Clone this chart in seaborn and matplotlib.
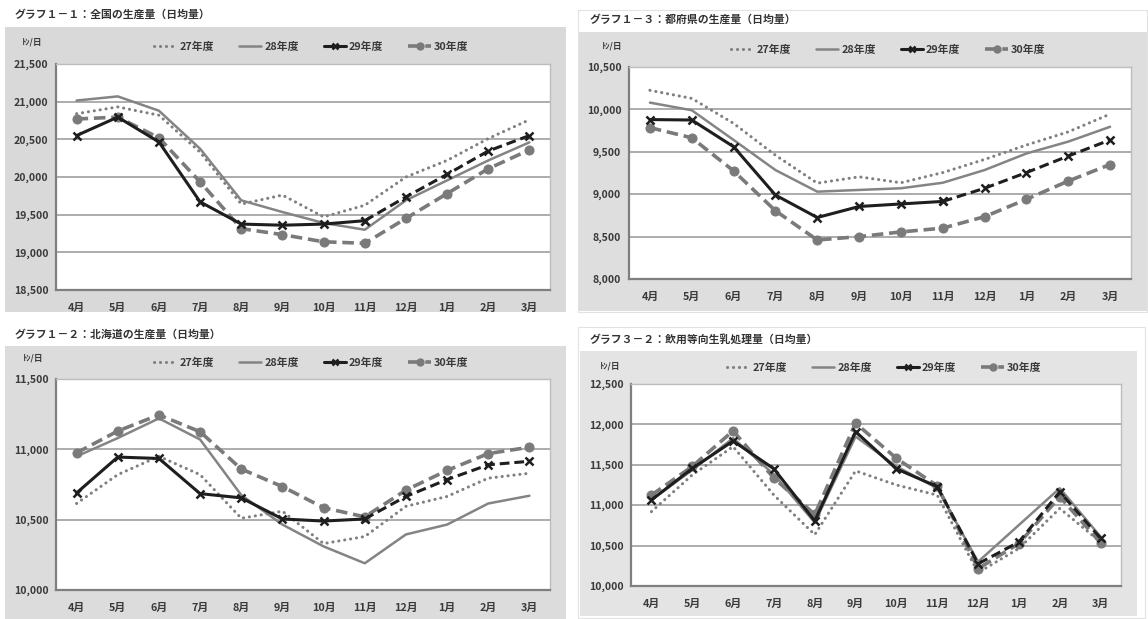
import numpy as np
import matplotlib
matplotlib.use("Agg")
import matplotlib.pyplot as plt
from matplotlib.lines import Line2D
from matplotlib.patches import Rectangle
import seaborn as sns

sns.set_style("white")
plt.rcParams["font.family"] = ["Noto Sans CJK JP", "DejaVu Sans"]

# ---- data -------------------------------------------------------------
months = ["4月", "5月", "6月", "7月", "8月", "9月", "10月", "11月", "12月", "1月", "2月", "3月"]
years = ["27年度", "28年度", "29年度", "30年度"]
unit_label = "ﾄﾝ/日"

# グラフ1-1 全国
national_27 = [20840, 20930, 20820, 20330, 19640, 19760, 19470, 19625, 20000, 20220, 20510, 20760]
national_28 = [21015, 21070, 20880, 20375, 19690, 19535, 19390, 19300, 19690, 19955, 20220, 20460]
national_29 = [20550, 20795, 20465, 19670, 19375, 19360, 19375, 19420, 19735, 20035, 20345, 20550]
national_30 = [20770, 20795, 20520, 19935, 19315, 19235, 19140, 19120, 19450, 19780, 20110, 20360]
national_ticks = [18500, 19000, 19500, 20000, 20500, 21000, 21500]

# グラフ1-2 北海道
hokkaido_27 = [10615, 10820, 10950, 10820, 10510, 10560, 10330, 10380, 10595, 10665, 10795, 10830]
hokkaido_28 = [10950, 11080, 11220, 11070, 10675, 10465, 10310, 10190, 10395, 10465, 10615, 10670]
hokkaido_29 = [10690, 10945, 10935, 10685, 10655, 10505, 10490, 10505, 10665, 10785, 10890, 10915]
hokkaido_30 = [10975, 11130, 11245, 11125, 10860, 10735, 10585, 10520, 10710, 10850, 10970, 11015]
hokkaido_ticks = [10000, 10500, 11000, 11500]

# グラフ1-3 都府県
prefs_27 = [10225, 10130, 9835, 9460, 9130, 9205, 9135, 9255, 9410, 9580, 9735, 9945]
prefs_28 = [10080, 9990, 9640, 9285, 9030, 9050, 9070, 9135, 9285, 9480, 9620, 9795]
prefs_29 = [9880, 9875, 9560, 8990, 8725, 8855, 8885, 8915, 9070, 9255, 9450, 9640]
prefs_30 = [9785, 9665, 9275, 8805, 8460, 8500, 8555, 8600, 8735, 8940, 9155, 9350]
prefs_ticks = [8000, 8500, 9000, 9500, 10000, 10500]

# グラフ3-2 飲用等向生乳処理量
drink_27 = [10920, 11375, 11725, 11125, 10635, 11425, 11250, 11125, 10165, 10465, 10960, 10545]
drink_28 = [11065, 11435, 11830, 11380, 10785, 11850, 11480, 11210, 10300, 10755, 11210, 10610]
drink_29 = [11065, 11455, 11795, 11450, 10805, 11910, 11450, 11230, 10275, 10545, 11165, 10590]
drink_30 = [11125, 11480, 11920, 11335, 10885, 12015, 11580, 11240, 10215, 10525, 11105, 10535]
drink_ticks = [10000, 10500, 11000, 11500, 12000, 12500]

titles = [
    "グラフ１－１：全国の生産量（日均量）",
    "グラフ１－３：都府県の生産量（日均量）",
    "グラフ１－２：北海道の生産量（日均量）",
    "グラフ３－２：飲用等向生乳処理量（日均量）",
]

# ---- layout (pixels) --------------------------------------------------
W, H = 1148, 619
fig = plt.figure(figsize=(W / 100, H / 100), dpi=100)
fig.patch.set_facecolor("white")


def fx(x):
    return x / W


def fy(y):
    return 1 - y / H


def rect(x0, y0, x1, y1, **kw):
    r = Rectangle((fx(x0), fy(y1)), (x1 - x0) / W, (y1 - y0) / H,
                  transform=fig.transFigure, **kw)
    fig.patches.append(r)


# white cards on the right column
rect(578, 10, 1147, 312, facecolor="white", edgecolor="#e2e2e2", linewidth=0.8, zorder=-3)
rect(578, 327, 1145, 618, facecolor="white", edgecolor="#e2e2e2", linewidth=0.8, zorder=-3)

panels = [
    dict(title=titles[0], data=[national_27, national_28, national_29, national_30],
         ticks=national_ticks, bg=(5, 27, 566, 312), box=(56, 64, 550, 290),
         title_xy=(15, 15), legend_y=47, unit_xy=(32, 42), face="#d9d9d9"),
    dict(title=titles[1], data=[prefs_27, prefs_28, prefs_29, prefs_30],
         ticks=prefs_ticks, bg=(579, 32, 1147, 311), box=(629, 67, 1131, 279),
         title_xy=(590, 20), legend_y=50, unit_xy=(612, 46), face="#dedede"),
    dict(title=titles[2], data=[hokkaido_27, hokkaido_28, hokkaido_29, hokkaido_30],
         ticks=hokkaido_ticks, bg=(5, 346, 566, 619), box=(56, 379, 550, 590),
         title_xy=(15, 335), legend_y=363, unit_xy=(33, 358), face="#dcdcdc"),
    dict(title=titles[3], data=[drink_27, drink_28, drink_29, drink_30],
         ticks=drink_ticks, bg=(580, 351, 1137, 616), box=(631, 384, 1121, 586),
         title_xy=(590, 339), legend_y=368, unit_xy=(610, 366), face="#e4e4e4"),
]

# ---- series styles ------------------------------------------------------
c27, c28, c29, c30 = "#7f7f7f", "#848484", "#1e1e1e", "#7a7a7a"
dot_ls = (0, (0.05, 1.9))
dash_ls = (0, (3.2, 1.6))

legend_handles = [
    Line2D([], [], color=c27, lw=2.2, linestyle=dot_ls, dash_capstyle="round"),
    Line2D([], [], color=c28, lw=1.8),
    Line2D([], [], color=c29, lw=2.2, marker="x", ms=5, mew=1.8),
    Line2D([], [], color=c30, lw=2.6, linestyle=dash_ls, marker="o", ms=5),
]

text_color = "#3a3a3a"
split = months.index("11月")

for p in panels:
    rect(*p["bg"], facecolor=p["face"], edgecolor="none", zorder=-2)
    x0, y0, x1, y1 = p["box"]
    ax = fig.add_axes([fx(x0), fy(y1), (x1 - x0) / W, (y1 - y0) / H])
    ax.set_zorder(1)
    ax.set_facecolor("white")

    xs = np.arange(len(months))
    d27, d28, d29, d30 = p["data"]

    sns.lineplot(x=xs, y=d27, ax=ax, color=c27, linewidth=2.2, linestyle=dot_ls,
                 dash_capstyle="round", zorder=3)
    sns.lineplot(x=xs, y=d28, ax=ax, color=c28, linewidth=1.8, zorder=3)
    sns.lineplot(x=xs[:split + 1], y=d29[:split + 1], ax=ax, color=c29, linewidth=2.2,
                 marker="x", markersize=6, markeredgewidth=1.8, markeredgecolor=c29, zorder=5)
    sns.lineplot(x=xs[split:], y=d29[split:], ax=ax, color=c29, linewidth=2.2,
                 linestyle=dash_ls, marker="x", markersize=6, markeredgewidth=1.8,
                 markeredgecolor=c29, zorder=5)
    sns.lineplot(x=xs, y=d30, ax=ax, color=c30, linewidth=2.6, linestyle=dash_ls,
                 marker="o", markersize=6.5, markeredgecolor=c30, zorder=4)

    ticks = p["ticks"]
    ax.set_xlim(-0.5, len(months) - 0.5)
    ax.set_ylim(ticks[0], ticks[-1])
    ax.set_yticks(ticks)
    ax.set_yticklabels([f"{t:,}" for t in ticks], fontsize=7.6, fontweight="bold",
                       color=text_color)
    ax.set_xticks(xs)
    ax.set_xticklabels(months, fontsize=7.8, fontweight="bold", color=text_color)
    ax.set_xticks(np.arange(-0.5, len(months), 1.0), minor=True)
    ax.tick_params(axis="x", which="major", length=0, pad=9)
    ax.tick_params(axis="x", which="minor", length=3.5, width=1.0, color="#8a8a8a",
                   direction="out")
    ax.tick_params(axis="y", which="major", length=3.5, width=1.0, color="#8a8a8a",
                   direction="out", pad=2)
    ax.set_xlabel("")
    ax.set_ylabel("")

    ax.grid(axis="y", color="#a6a6a6", linewidth=1.3, zorder=1)
    ax.grid(axis="x", visible=False)
    ax.set_axisbelow(True)
    for side in ("top", "right"):
        ax.spines[side].set_color("#bdbdbd")
        ax.spines[side].set_linewidth(1.0)
    for side in ("left", "bottom"):
        ax.spines[side].set_color("#7f7f7f")
        ax.spines[side].set_linewidth(1.6)

    tx, ty = p["title_xy"]
    fig.text(fx(tx), fy(ty), p["title"], fontsize=7.8, fontweight="bold",
             color="#333333", ha="left", va="center")
    ux, uy = p["unit_xy"]
    fig.text(fx(ux), fy(uy), unit_label, fontsize=6.2, fontweight="bold",
             color=text_color, ha="center", va="center")

    fig.legend(legend_handles, years, loc="center",
               bbox_to_anchor=(fx((x0 + x1) / 2 + 8), fy(p["legend_y"])),
               ncol=4, frameon=False, handlelength=2.1, handletextpad=0.25,
               columnspacing=2.3, borderaxespad=0,
               prop={"size": 7.8, "weight": "bold"}, labelcolor=text_color)

fig.savefig("out.png", dpi=100, facecolor="white")
